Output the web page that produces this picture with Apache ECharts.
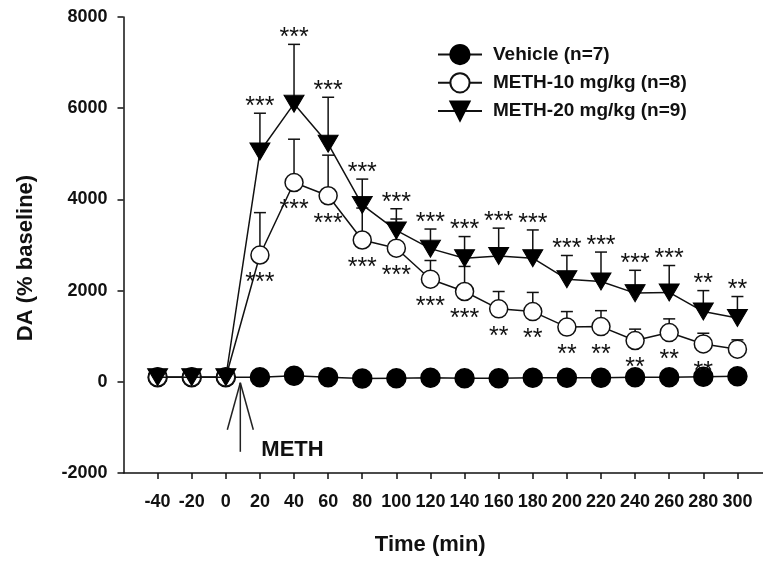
<!DOCTYPE html>
<html>
<head>
<meta charset="utf-8">
<script src="https://cdn.jsdelivr.net/npm/echarts@6/dist/echarts.min.js"></script>
<style>html,body{margin:0;padding:0;background:#fff;}#c{width:763px;height:564px;}</style>
</head>
<body>
<div id="c"></div>
<script>
const times = [-40,-20,0,20,40,60,80,100,120,140,160,180,200,220,240,260,280,300];
const vehicle = [100,100,100,100,130,100,70,80,90,80,80,90,90,90,100,100,110,120];
const meth10 = [100,100,100,2780,4370,4080,3110,2930,2250,1980,1600,1540,1200,1210,905,1080,830,715];
const meth10Sem = [0,0,0,930,950,890,700,640,410,550,380,420,340,350,250,300,235,205];
const meth20 = [100,100,100,5050,6100,5220,3880,3320,2920,2710,2760,2710,2250,2200,1945,1960,1540,1400];
const meth20Sem = [0,0,0,840,1300,1020,565,475,430,475,610,620,520,645,500,590,460,470];
const meth10Stars = ['','','','***','***','***','***','***','***','***','**','**','**','**','**','**','**',''];
const meth20Stars = ['','','','***','***','***','***','***','***','***','***','***','***','***','***','***','**','**'];
const xTicks = [-40,-20,0,20,40,60,80,100,120,140,160,180,200,220,240,260,280,300];
const yTicks = [-2000,0,2000,4000,6000,8000];
const arrowAt = [8.5, 0];
const seriesNames = ['Vehicle (n=7)','METH-10 mg/kg (n=8)','METH-20 mg/kg (n=9)'];

const FONT = "'Liberation Sans', Arial, sans-serif";
const INK = '#111';
const chart = echarts.init(document.getElementById('c'), null, {renderer:'canvas'});

function pairs(vals){ return times.map((t,i)=>[t, vals[i]]); }
function errData(vals, sem){ return times.map((t,i)=>[t, vals[i], sem[i]]).filter(d=>d[2]>0); }
function starData(vals, sem, stars){ return times.map((t,i)=>[t, vals[i], sem[i], stars[i]]).filter(d=>d[3]); }

function errRender(params, api){
  const t = api.value(0), v = api.value(1), s = api.value(2);
  const p0 = api.coord([t, v]);
  const p1 = api.coord([t, v + s]);
  const st = {stroke: INK, lineWidth: 1.5};
  return {type:'group', children:[
    {type:'line', shape:{x1:p0[0], y1:p0[1], x2:p1[0], y2:p1[1]}, style:st},
    {type:'line', shape:{x1:p1[0]-6, y1:p1[1], x2:p1[0]+6, y2:p1[1]}, style:st}
  ]};
}

const option = {
  animation: false,
  backgroundColor: '#fff',
  grid: {left: 123.5, top: 17, right: 0, bottom: 91, outerBoundsMode: 'none'},
  legend: {
    orient: 'vertical', left: 432, top: 39,
    itemWidth: 44, itemHeight: 24, itemGap: 7,
    data: seriesNames,
    textStyle: {fontFamily: FONT, fontSize: 19, fontWeight: 'bold', color: INK, padding: [0,0,0,6]},
    selectedMode: false
  },
  xAxis: {
    type: 'value', min: -60, max: 315,
    name: 'Time (min)', nameLocation: 'middle', nameGap: 61,
    nameTextStyle: {fontFamily: FONT, fontSize: 22, fontWeight: 'bold', color: INK, padding: [0, 26, 0, 0]},
    axisLine: {show: true, onZero: false, lineStyle: {color: INK, width: 1.5}},
    axisTick: {show: true, length: 6, customValues: xTicks, lineStyle: {color: INK, width: 1.5}},
    axisLabel: {customValues: xTicks, margin: 20, fontFamily: FONT, fontSize: 18, fontWeight: 'bold', color: INK,
      formatter: function(v){ return String(v); }},
    splitLine: {show: false}
  },
  yAxis: {
    type: 'value', min: -2000, max: 8000, interval: 2000,
    name: 'DA (% baseline)', nameLocation: 'middle', nameGap: 87,
    nameTextStyle: {fontFamily: FONT, fontSize: 22, fontWeight: 'bold', color: INK, padding: [0, 26, 0, 0]},
    axisLine: {show: true, onZero: false, lineStyle: {color: INK, width: 1.5}},
    axisTick: {show: true, length: 6, lineStyle: {color: INK, width: 1.5}},
    axisLabel: {margin: 16, fontFamily: FONT, fontSize: 18, fontWeight: 'bold', color: INK,
      customValues: yTicks, formatter: function(v){ return String(v); }},
    splitLine: {show: false}
  },
  series: [
    {type:'custom', name:'err10', z:1, clip:false, silent:true, data: errData(meth10, meth10Sem), renderItem: errRender},
    {type:'custom', name:'err20', z:1, clip:false, silent:true, data: errData(meth20, meth20Sem), renderItem: errRender},
    {type:'line', name: seriesNames[0], z:3, data: pairs(vehicle), symbol:'circle', symbolSize:19,
      lineStyle:{color:INK, width:1.5}, itemStyle:{color:'#000', borderColor:'#000', borderWidth:1.5}, emphasis:{disabled:true}},
    {type:'line', name: seriesNames[1], z:4, data: pairs(meth10), symbol:'circle', symbolSize:18,
      lineStyle:{color:INK, width:1.5}, itemStyle:{color:'#fff', borderColor:INK, borderWidth:1.5}, emphasis:{disabled:true}},
    {type:'line', name: seriesNames[2], z:5, data: pairs(meth20), symbol:'path://M0,0L20,0L10,17Z', symbolSize:[20,17],
      lineStyle:{color:INK, width:1.5}, itemStyle:{color:'#000', borderColor:'#000', borderWidth:1}, emphasis:{disabled:true}},
    {type:'custom', name:'stars20', z:6, clip:false, silent:true, data: starData(meth20, meth20Sem, meth20Stars),
      renderItem: function(params, api){
        const t = api.value(0), v = api.value(1), s = api.value(2);
        const p = api.coord([t, v + s]);
        return {type:'text', x: p[0], y: p[1] - 6, style:{text: meth20Stars[times.indexOf(t)], fontFamily: FONT, fontSize: 25, fill: INK, align:'center', verticalAlign:'middle'}};
      }},
    {type:'custom', name:'stars10', z:6, clip:false, silent:true, data: starData(meth10, meth10Sem, meth10Stars),
      renderItem: function(params, api){
        const t = api.value(0), v = api.value(1);
        const p = api.coord([t, v]);
        return {type:'text', x: p[0], y: p[1] + 28, style:{text: meth10Stars[times.indexOf(t)], fontFamily: FONT, fontSize: 25, fill: INK, align:'center', verticalAlign:'middle'}};
      }},
    {type:'custom', name:'arrow', z:6, clip:false, silent:true, data:[arrowAt],
      renderItem: function(params, api){
        const p = api.coord([api.value(0), api.value(1)]);
        const st = {stroke: '#222', lineWidth: 1.5};
        return {type:'group', children:[
          {type:'line', shape:{x1:p[0], y1:p[1]+1, x2:p[0], y2:p[1]+70}, style:st},
          {type:'line', shape:{x1:p[0], y1:p[1]+1, x2:p[0]-13, y2:p[1]+48}, style:st},
          {type:'line', shape:{x1:p[0], y1:p[1]+1, x2:p[0]+13, y2:p[1]+48}, style:st},
          {type:'text', x:p[0]+21, y:p[1]+68, style:{text:'METH', fontFamily: FONT, fontSize: 22, fontWeight:'bold', fill: INK, align:'left', verticalAlign:'middle'}}
        ]};
      }}
  ]
};
chart.setOption(option);
</script>
</body>
</html>
